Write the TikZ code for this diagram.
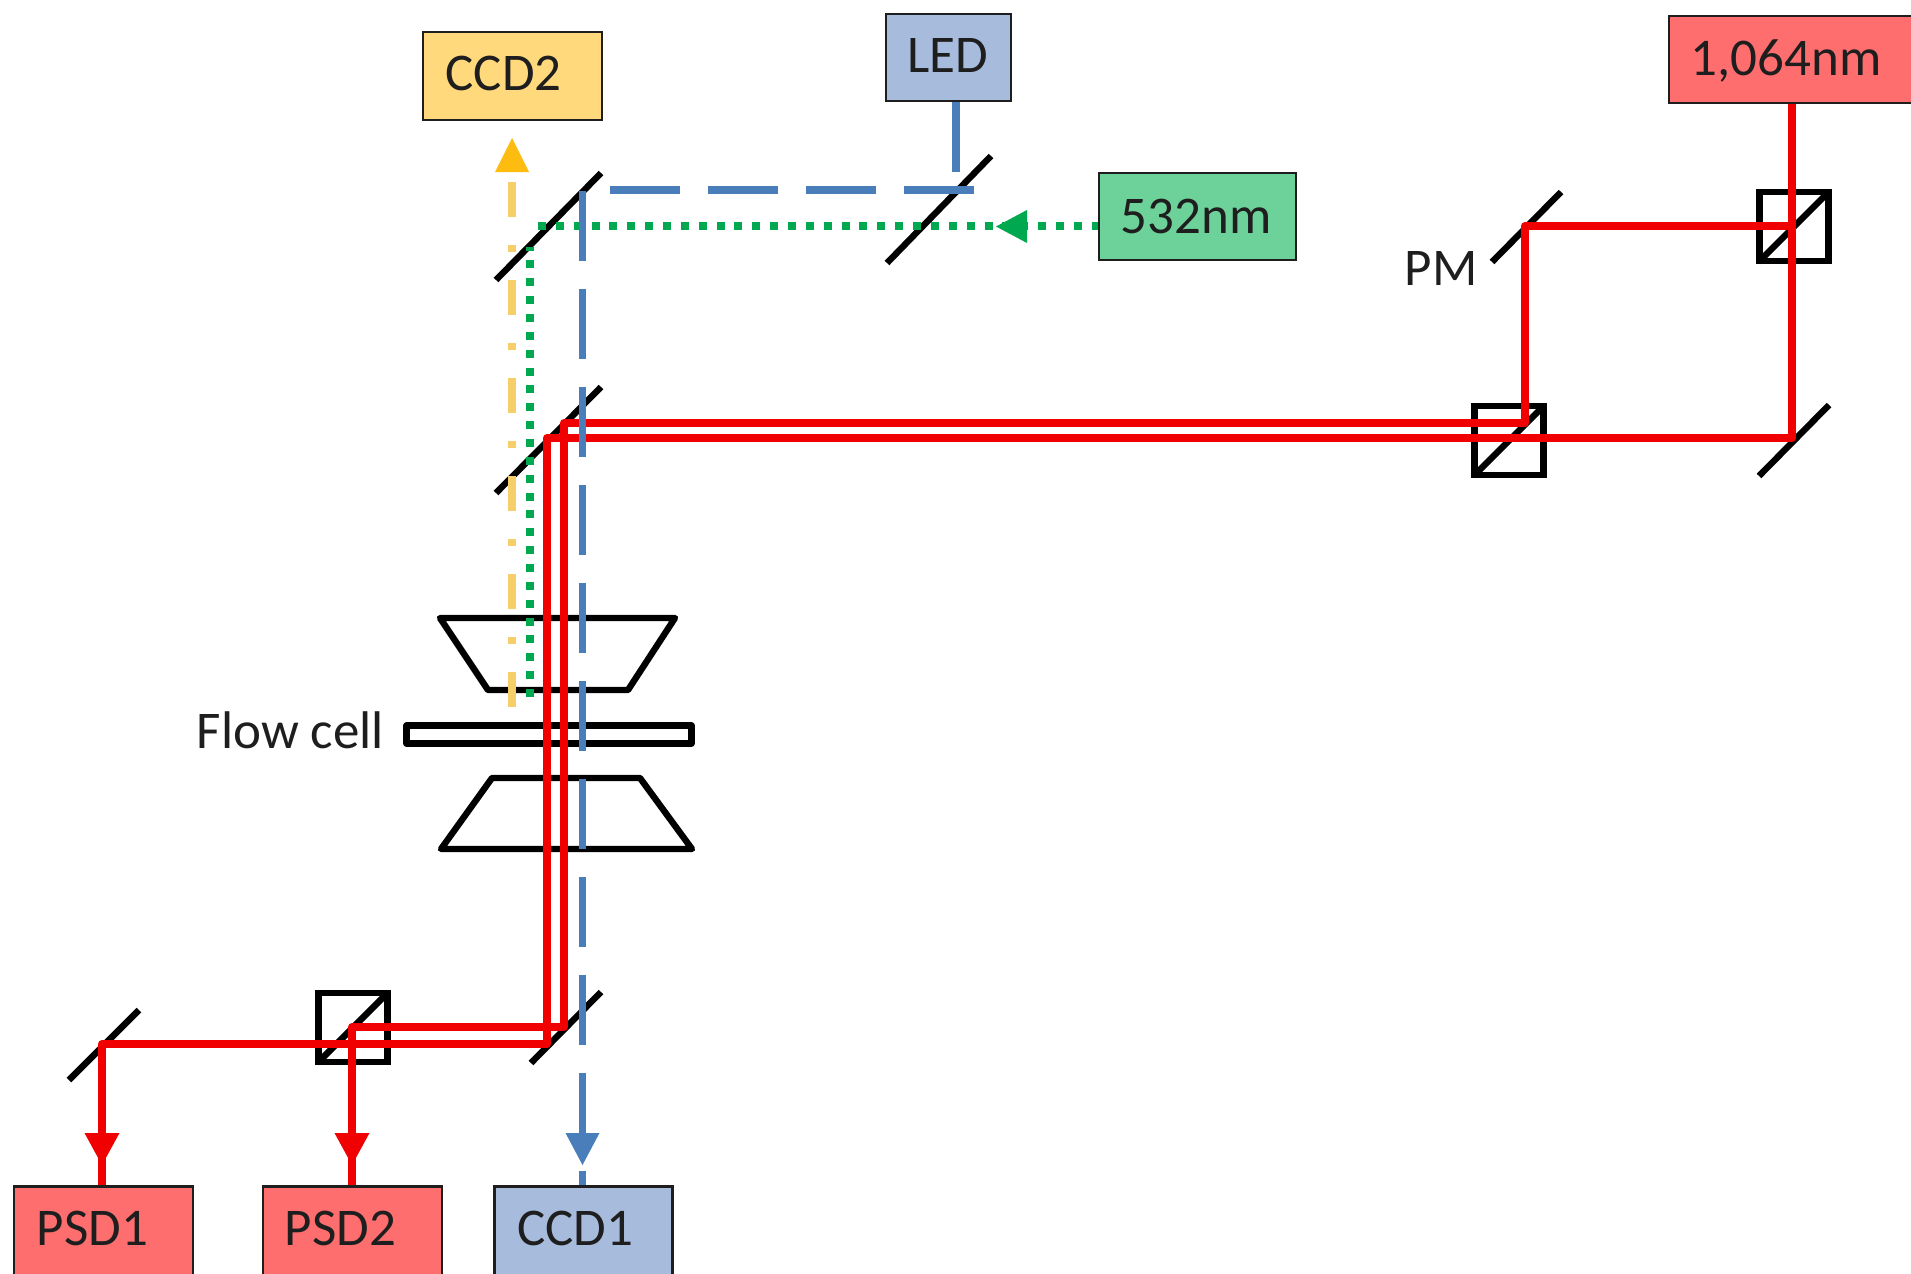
\documentclass[tikz,border=0pt]{standalone}
\usepackage{fontspec}
\setmainfont{Carlito}
\definecolor{boxred}{HTML}{FF6E6E}
\definecolor{boxblue}{HTML}{A7BBDC}
\definecolor{boxyellow}{HTML}{FFD97C}
\definecolor{boxgreen}{HTML}{6DD29A}
\definecolor{beamred}{HTML}{F00000}
\definecolor{beamblue}{HTML}{4A7EBB}
\definecolor{beamgreen}{HTML}{00A850}
\definecolor{beamyellow}{HTML}{F6CF6A}
\definecolor{headyellow}{HTML}{FFBC10}
\definecolor{inktext}{HTML}{1E1E1E}
\tikzset{
  boxnode/.style={draw=inktext,line width=1.1pt,rectangle,inner sep=0pt,minimum width=#1},
  txt/.style={anchor=base,inner sep=0pt,text=inktext,font=\fontsize{26.5pt}{31pt}\selectfont},
  optic/.style={draw=black,line width=3.2pt,line join=round},
  cube/.style={draw=black,line width=3.2pt,rectangle,inner sep=0pt,minimum width=34.5pt,minimum height=34.5pt},
  splitline/.style={draw=black,line width=3.2pt,shorten >=1.6pt,shorten <=1.6pt},
  redbeam/.style={draw=beamred,line width=4pt,line join=round},
  bluebeam/.style={draw=beamblue,line width=3.9pt},
  bluedash/.style={bluebeam,dash pattern=on 35pt off 14pt},
  greendots/.style={draw=beamgreen,line width=4pt,dash pattern=on 4pt off 4.93pt},
  yellowdash/.style={draw=beamyellow,line width=4.2pt,dash pattern=on 17.5pt off 14pt on 3.5pt off 14pt},
}
\begin{document}
\begin{tikzpicture}[x=0.5pt,y=-0.5pt]
\useasboundingbox (0,0) rectangle (1911,1274);
\clip (0,0) rectangle (1911,1274);
\fill[white] (0,0) rectangle (1911,1274);

% boxes
\node[boxnode=89.5pt,minimum height=44pt,fill=boxyellow] (ccd2) at (512.5,76) {};
\node[boxnode=62.5pt,minimum height=43.5pt,fill=boxblue] (led) at (948.5,57.5) {};
\node[boxnode=98.5pt,minimum height=43.5pt,fill=boxgreen] (g532) at (1197.5,216.5) {};
\node[boxnode=146pt,minimum height=43.5pt,fill=boxred] (ir) at (1815,59.5) {};
\node[boxnode=89.5pt,minimum height=52pt,fill=boxred] (psd1) at (103.5,1238.5) {};
\node[boxnode=89.5pt,minimum height=52pt,fill=boxred] (psd2) at (352.5,1238.5) {};
\node[boxnode=89pt,minimum height=52pt,fill=boxblue] (ccd1) at (583.5,1238.5) {};

% box and free labels
\node[txt] (tccd2) at (503.5,90) {CCD2};
\node[txt] (tled) at (947.5,72) {LED};
\node[txt] (t532) at (1196,233) {532nm};
\node[txt] (tir) at (1786,75) {1,064nm};
\node[txt] (tpsd1) at (92.5,1245) {PSD1};
\node[txt] (tpsd2) at (340.5,1245) {PSD2};
\node[txt] (tccd1) at (575,1245) {CCD1};
\node[txt] (tflow) at (290.5,748) {Flow cell};
\node[txt] (tpm) at (1441,285) {PM};

% mirrors
\draw[optic] (601,173) -- (496,280);
\draw[optic] (991,156) -- (887,263);
\draw[optic] (601,387) -- (496,493);
\draw[optic] (601,992) -- (531,1063);
\draw[optic] (139,1010) -- (69,1080);
\draw[optic] (1561,192) -- (1492,262);
\draw[optic] (1829,405) -- (1759,476);

% beam splitter cubes
\node[cube] (bs1) at (1794,226.5) {};
\draw[splitline] (bs1.south west) -- (bs1.north east);
\node[cube] (bs2) at (1509,440.5) {};
\draw[splitline] (bs2.south west) -- (bs2.north east);
\node[cube] (bs3) at (353,1027.5) {};
\draw[splitline] (bs3.south west) -- (bs3.north east);

% objectives and flow cell
\draw[optic] (440,618) -- (675,618) -- (628,690) -- (488,690) -- cycle;
\draw[optic] (406.5,725.5) rectangle (691.5,743.5);
\draw[optic] (492,778) -- (640,778) -- (692,849) -- (441,849) -- cycle;

% beam junctions
\coordinate (r1) at (1792,226);
\coordinate (r2) at (1792,438);
\coordinate (r3) at (1525,226);
\coordinate (r4) at (1525,423);
\coordinate (r5) at (564,423);
\coordinate (r6) at (547,438);
\coordinate (r7) at (564,1027);
\coordinate (r8) at (547,1044);
\coordinate (r9) at (352,1027);
\coordinate (r10) at (102,1044);
\coordinate (b1) at (956,172);
\coordinate (b2) at (974,190);
\coordinate (b3) at (582.5,190);
\coordinate (g1) at (538,226);
\coordinate (g2) at (530,697);
\coordinate (g3) at (530,247);
\coordinate (y1) at (512,707);
\coordinate (y2) at (512,182);

% yellow beam
\draw[yellowdash] (y1) -- (y2);
\fill[headyellow] (512,138) -- (529,172) -- (495,172) -- cycle;

% red beams
\draw[redbeam] (r2 |- ir.south) -- (r2) -- (r6) -- (r8) -- (r10) -- (r10 |- psd1.north);
\draw[redbeam] (r1) -- (r3) -- (r4) -- (r5) -- (r7) -- (r9) -- (r9 |- psd2.north);
\fill[beamred] (102,1165) -- (84.5,1133) -- (119.5,1133) -- cycle;
\fill[beamred] (352,1165) -- (334.5,1133) -- (369.5,1133) -- cycle;

% green beam
\draw[greendots] (g1) -- (g1 -| g532.west);
\draw[greendots] (g2) -- (g3);
\fill[beamgreen] (996,226.5) -- (1027,210) -- (1027,243) -- cycle;

% blue beam
\draw[bluebeam] (b1 |- led.south) -- (b1);
\draw[bluedash] (b2) -- (b3) -- (b3 |- ccd1.north);
\fill[beamblue] (582.5,1165) -- (565.5,1133) -- (599.5,1133) -- cycle;
\end{tikzpicture}
\end{document}
